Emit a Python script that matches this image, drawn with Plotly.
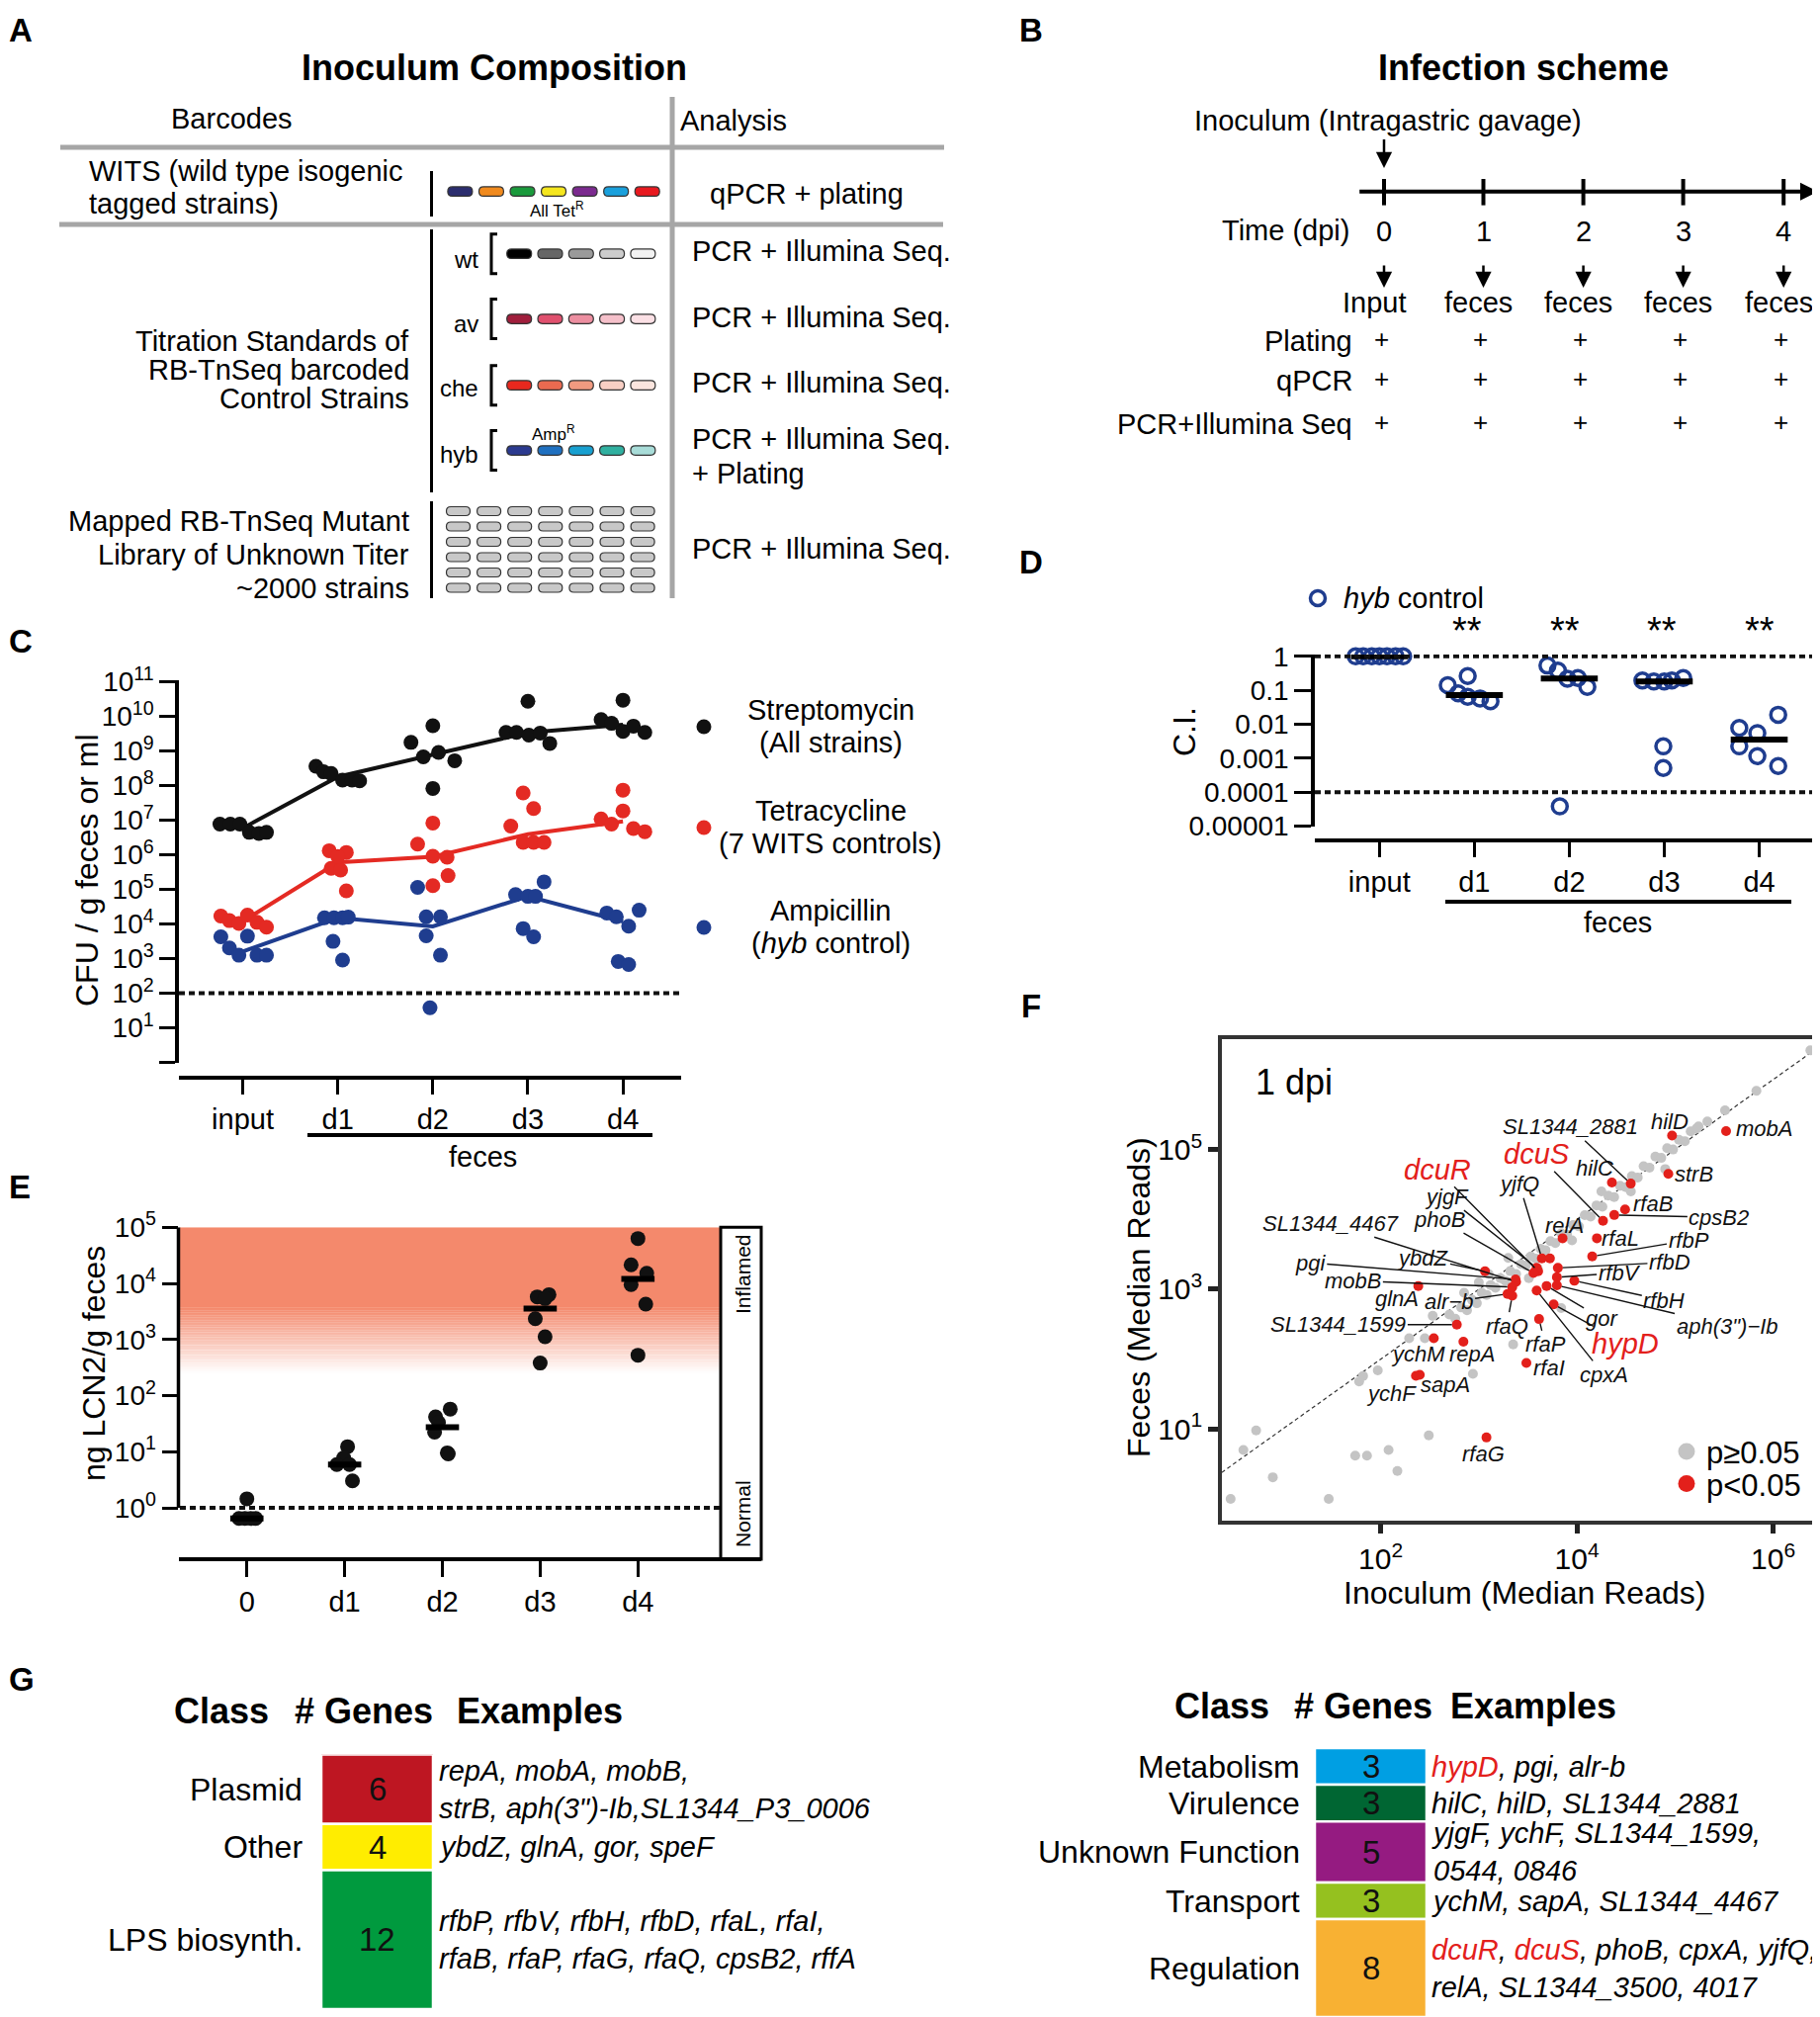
import numpy as np
import plotly.graph_objects as go

FONT = "Liberation Sans, Arial, Helvetica, sans-serif"
W, H = 1841, 2040
# the page body adds an 8 px offset; coordinates below are target screen pixels
OFF = 8


def px(x):
    return (x - OFF) / W


def py(y):
    return 1 - (y - OFF) / H


# ===================== DATA =====================
# Panel C : log10 CFU / g feces or ml
c_categories = ["input", "d1", "d2", "d3", "d4"]
strep_log10 = [
    [6.89, 6.89, 6.89, 6.65, 6.62, 6.65],
    [8.56, 8.40, 8.35, 8.16, 8.16, 8.14],
    [9.25, 9.73, 8.83, 8.96, 8.72, 7.92],
    [10.44, 9.54, 9.54, 9.46, 9.52, 9.22],
    [10.47, 9.91, 9.80, 9.57, 9.72, 9.54],
]
tet_log10 = [
    [4.23, 4.10, 4.02, 4.26, 4.05, 3.91],
    [6.12, 6.07, 5.61, 5.56, 4.96, 5.95],
    [6.92, 6.31, 5.96, 5.93, 5.40, 5.11],
    [7.79, 7.34, 6.83, 6.36, 6.36, 6.36],
    [7.87, 7.27, 7.04, 6.89, 6.76, 6.67],
]
amp_log10 = [
    [3.63, 3.31, 3.10, 3.65, 3.10, 3.10],
    [4.18, 4.18, 4.18, 4.20, 3.50, 2.96],
    [5.06, 4.21, 4.21, 3.66, 3.10, 1.58],
    [4.85, 4.80, 4.80, 5.22, 3.87, 3.63],
    [4.32, 4.21, 3.94, 4.40, 2.92, 2.83],
]
c_detection_limit = 100

# Panel D : log10 competitive index, hyb control
ci_log10 = [
    [0, 0, 0, 0, 0, 0, 0],
    [-0.85, -0.58, -1.09, -1.19, -1.24, -1.32],
    [-0.27, -0.42, -0.66, -0.64, -0.90, -4.42],
    [-0.71, -0.74, -0.74, -0.71, -0.64, -2.65, -3.29],
    [-2.11, -2.26, -1.72, -2.65, -2.94, -3.23],
]
ci_limits = [1, 1e-4]
ci_ticks = [1, 0.1, 0.01, 0.001, 0.0001, 0.00001]
ci_ticktext = ["1", "0.1", "0.01", "0.001", "0.0001", "0.00001"]

# Panel E : log10 ng LCN2 / g feces
e_categories = ["0", "d1", "d2", "d3", "d4"]
lcn2_log10 = [
    [0.16, -0.19, -0.19, -0.19, -0.19],
    [1.09, 0.89, 0.77, 0.77, 0.48],
    [1.76, 1.62, 1.52, 1.35, 0.98, 0.96],
    [3.76, 3.80, 3.73, 3.37, 3.05, 2.58],
    [4.80, 4.33, 4.18, 3.98, 3.63, 2.72],
]
lcn2_normal = 1

# Panel F : log10 median reads (inoculum, feces)
gray_inoc_log10 = [0.47, 0.60, 0.73, 0.90, 1.47, 1.74, 1.86, 2.08, 2.17, 2.49,
                   1.78, 1.82, 1.97, 2.29, 2.45, 2.53, 2.94, 3.35, 3.84, 3.51,
                   4.90, 5.83, 5.51, 6.38, 5.33, 5.24,
                   2.70, 2.76, 2.82, 2.88, 2.93, 2.98, 3.03, 3.08, 3.12, 3.17,
                   3.22, 3.27, 3.32, 3.38, 3.43, 3.48, 3.53, 3.58, 3.63, 3.68,
                   3.73, 3.78, 3.84, 3.90, 3.96, 4.02, 4.08, 4.14, 4.20, 4.26,
                   4.32, 4.38, 4.44, 4.50, 4.56, 4.62, 4.68, 4.74, 4.80, 4.86,
                   4.92, 4.98, 5.04, 5.10, 5.16, 5.22,
                   3.10, 3.30, 3.60, 3.95, 4.25, 4.55, 3.00, 2.85]
gray_feces_log10 = [0.00, 0.70, 0.98, 0.31, 0.00, 0.62, 0.62, 0.70, 0.40, 0.91,
                    1.68, 1.76, 1.84, 2.30, 2.30, 2.62, 1.79, 2.21, 2.73, 3.16,
                    4.72, 5.84, 5.56, 6.42, 5.40, 5.33,
                    2.64, 2.58, 2.74, 2.70, 2.85, 2.80, 2.95, 2.92, 3.06, 3.02,
                    3.16, 3.12, 3.26, 3.22, 3.36, 3.34, 3.47, 3.44, 3.58, 3.56,
                    3.69, 3.66, 3.80, 3.78, 3.92, 3.90, 4.06, 4.04, 4.20, 4.18,
                    4.34, 4.32, 4.48, 4.46, 4.62, 4.60, 4.76, 4.74, 4.90, 4.88,
                    5.02, 5.00, 5.14, 5.12, 5.26, 5.30,
                    3.22, 3.45, 3.30, 3.70, 4.40, 4.40, 3.10, 2.95]
red_genes = ["hilD", "mobA", "strB", "SL1344_2881", "hilC", "dcuS", "rfaB", "cpsB2",
             "rfaL", "relA", "rfbP", "yjfQ", "", "dcuR", "yjgF", "phoB", "rfbD", "rfbV",
             "rfbH", "aph(3\")\u2212Ib", "gor", "hypD", "cpxA", "rfaP", "rfaI", "rfaQ",
             "alr\u2212b", "SL1344_4467", "pgi", "mobB", "ybdZ", "glnA", "SL1344_1599",
             "ychM", "repA", "ychF", "sapA", "rfaG"]
red_inoc_log10 = [4.970, 5.521, 4.932, 4.549, 4.357, 4.266, 4.491, 4.381,
                  4.204, 3.854, 4.156, 3.643, 3.725, 3.605, 3.590, 3.557, 3.806, 3.796,
                  3.974, 3.796, 3.691, 3.763, 3.590, 3.614, 3.485, 3.341,
                  3.293, 3.380, 3.375, 3.341, 3.063, 2.383, 2.776,
                  2.541, 2.843, 2.359, 2.398, 3.078]
red_feces_log10 = [5.199, 5.264, 4.651, 4.512, 4.527, 3.979, 4.143, 4.063,
                   3.730, 3.730, 3.471, 3.441, 3.441, 3.257, 3.306, 3.232, 3.306, 3.172,
                   3.122, 3.057, 3.047, 2.783, 2.983, 2.574, 1.947, 2.908,
                   2.933, 3.107, 3.142, 3.032, 3.257, 3.047, 2.494,
                   2.300, 2.250, 1.762, 1.777, 0.880]
highlight_genes = ["dcuR", "dcuS", "hypD"]

# Panel G : gene classes
g_left_classes = ["Plasmid", "Other", "LPS biosynth."]
g_left_counts = [6, 4, 12]
g_left_examples = [
    "repA, mobA, mobB,<br>strB, aph(3\")-Ib,SL1344_P3_0006",
    "ybdZ, glnA, gor, speF",
    "rfbP, rfbV, rfbH, rfbD, rfaL, rfaI,<br>rfaB, rfaP, rfaG, rfaQ, cpsB2, rffA",
]
g_right_classes = ["Metabolism", "Virulence", "Unknown Function", "Transport", "Regulation"]
g_right_counts = [3, 3, 5, 3, 8]
g_right_examples = [
    "<span style='color:#e3201b'>hypD</span>, pgi, alr-b",
    "hilC, hilD, SL1344_2881",
    "yjgF, ychF, SL1344_1599,<br>0544, 0846",
    "ychM, sapA, SL1344_4467",
    "<span style='color:#e3201b'>dcuR</span>, <span style='color:#e3201b'>dcuS</span>, phoB, cpxA, yjfQ,<br>relA, SL1344_3500, 4017",
]

# ===================== STYLES (jitter / colours) =====================
BLACK, RED, BLUE = "#111111", "#e42a23", "#1f3d8f"
c_jit_strep = [[-0.24, -0.13, -0.03, 0.07, 0.17, 0.25], [-0.23, -0.15, -0.07, 0.05, 0.15, 0.23],
               [-0.23, 0, -0.1, 0.06, 0.23, 0], [0, -0.23, -0.12, 0.01, 0.13, 0.23],
               [0, -0.23, -0.12, 0, 0.11, 0.23]]
c_jit_tet = [[-0.23, -0.14, -0.04, 0.05, 0.15, 0.25], [-0.09, 0.09, -0.07, 0.03, 0.09, 0.0],
             [0, -0.16, 0, 0.15, 0.16, 0], [-0.05, 0.06, -0.18, -0.05, 0.06, 0.17],
             [0, 0, -0.23, -0.12, 0.11, 0.23]]
c_jit_amp = [[-0.23, -0.14, -0.04, 0.05, 0.15, 0.25], [-0.14, -0.04, 0.05, 0.11, -0.05, 0.05],
             [-0.16, -0.07, 0.08, -0.07, 0.08, -0.03], [-0.13, 0, 0.08, 0.17, -0.05, 0.06],
             [-0.17, -0.07, 0.06, 0.17, -0.05, 0.06]]
d_jit = [[-0.25, -0.17, -0.08, 0, 0.08, 0.17, 0.25], [-0.28, -0.07, -0.17, -0.07, 0.06, 0.17],
         [-0.23, -0.12, -0.02, 0.09, 0.19, -0.10], [-0.23, -0.11, 0.0, 0.08, 0.2, -0.01, -0.01],
         [-0.21, -0.02, 0.2, -0.21, -0.02, 0.2]]
e_jit = [[0, -0.08, -0.02, 0.04, 0.09], [0.03, -0.01, -0.08, 0.05, 0.08],
         [0.08, -0.07, -0.04, -0.08, 0.05, 0.06], [-0.03, 0.09, 0.05, -0.05, 0.05, 0],
         [0, -0.07, 0.09, -0.07, 0.08, 0]]
g_left_colors = ["#be1622", "#ffed00", "#009a3e"]
g_right_colors = ["#009fe3", "#006633", "#951b81", "#95c11f", "#f8b133"]

fig = go.Figure()
shapes, annots = [], []


def T(x, y, s, size=29, anchor="center", color="black", angle=0, bold=False, italic=False, align="center"):
    if bold:
        s = "<b>" + s + "</b>"
    if italic:
        s = "<i>" + s + "</i>"
    annots.append(dict(xref="paper", yref="paper", x=px(x), y=py(y), text=s, showarrow=False,
                       xanchor=anchor, yanchor="middle", textangle=angle, align=align,
                       font=dict(size=size, color=color, family=FONT)))


def L(x0, y0, x1, y1, color="black", width=3, dash=None):
    shapes.append(dict(type="line", xref="paper", yref="paper", x0=px(x0), y0=py(y0), x1=px(x1),
                       y1=py(y1), line=dict(color=color, width=width, dash=dash)))


def ARROW(x0, y0, x1, y1, width=2.5, size=1.2):
    annots.append(dict(xref="paper", yref="paper", x=px(x1), y=py(y1), ax=x0 - x1, ay=y0 - y1,
                       text="", showarrow=True, arrowhead=2, arrowwidth=width, arrowsize=size,
                       arrowcolor="black"))


def PILL(cx, cy, fill, w=25, h=9.5, edge="#333333"):
    r = h / 2
    x0, x1, y0, y1 = cx - w / 2, cx + w / 2, cy - h / 2, cy + h / 2
    pts = [("M", x0 + r, y0), ("L", x1 - r, y0), ("Q", x1, y0, x1, cy), ("Q", x1, y1, x1 - r, y1),
           ("L", x0 + r, y1), ("Q", x0, y1, x0, cy), ("Q", x0, y0, x0 + r, y0)]
    p = ""
    for seg in pts:
        cmd = seg[0]
        coords = seg[1:]
        p += cmd + " " + " ".join(
            f"{px(coords[i]):.5f},{py(coords[i + 1]):.5f}" for i in range(0, len(coords), 2)) + " "
    p += "Z"
    shapes.append(dict(type="path", xref="paper", yref="paper", path=p, fillcolor=fill,
                       line=dict(color=edge, width=1.2)))


def CIRCLE(cx, cy, r, fill, edge=None, ew=0):
    shapes.append(dict(type="circle", xref="paper", yref="paper", x0=px(cx - r), x1=px(cx + r),
                       y0=py(cy + r), y1=py(cy - r), fillcolor=fill,
                       line=dict(color=edge if edge else fill, width=ew)))


# ===================== PANEL A =====================
T(7, 31, "A", size=33, bold=True, anchor="left")
T(500, 68, "Inoculum Composition", size=36, bold=True)
T(234, 120, "Barcodes")
T(742, 122, "Analysis")
GRAY = "#a6a6a6"
L(61, 149, 955, 149, GRAY, 5)
L(60, 227, 954, 227, GRAY, 5)
L(680, 98, 680, 605, GRAY, 5)
L(436.5, 173, 436.5, 219, "black", 3)
L(436.5, 232, 436.5, 498, "black", 3)
L(436.5, 507, 436.5, 605, "black", 3)
T(88, 172.6, "WITS (wild type isogenic", anchor="left")
T(88, 206, "tagged strains)", anchor="left")
wits_colors = ["#2b2d6e", "#f08a1e", "#1a9a3c", "#f5e61e", "#7b2a8f", "#1aa0dc", "#e8191f"]
for i, c in enumerate(wits_colors):
    PILL(465.4 + i * 31.55, 193.7, c)
T(563, 212, "All Tet<sup>R</sup>", size=17)
T(815.7, 196.4, "qPCR + plating")
rows = [("wt", 256.7, 262, ["#000000", "#666666", "#9a9a9a", "#cccccc", "#f2f2f2"]),
        ("av", 322.6, 327, ["#a01e3c", "#e0506e", "#ec8ea0", "#f5c0ca", "#fbe0e5"]),
        ("che", 389.7, 392, ["#e8281e", "#ea6a50", "#f09a80", "#f8cfc4", "#fbe5de"]),
        ("hyb", 455.6, 459.5, ["#2b3a8f", "#1f70c0", "#18a0d0", "#30b0a0", "#a8dcd8"])]
for name, yc, yl, cols in rows:
    T(486, yl, name, size=24, anchor="right")
    xb = 497
    shapes.append(dict(type="path", xref="paper", yref="paper",
                       path=f"M {px(xb + 6)},{py(yc - 20)} L {px(xb)},{py(yc - 20)} L {px(xb)},{py(yc + 20)} L {px(xb + 6)},{py(yc + 20)}",
                       line=dict(color="black", width=3)))
    for i, c in enumerate(cols):
        PILL(525.2 + i * 31.3, yc, c)
T(560, 437.7, "Amp<sup>R</sup>", size=17)
for yy, s in [(254, "PCR + Illumina Seq."), (320.6, "PCR + Illumina Seq."), (387, "PCR + Illumina Seq."),
              (443.7, "PCR + Illumina Seq."), (479, "+ Plating"), (554.8, "PCR + Illumina Seq.")]:
    T(698, yy, s, anchor="left")
T(416, 345, "Titration Standards of", anchor="right")
T(416, 374, "RB-TnSeq barcoded", anchor="right")
T(416, 403, "Control Strains", anchor="right")
for yy in [517, 532.5, 548, 563.5, 579, 594.5]:
    for i in range(7):
        PILL(463.5 + i * 31.1, yy, "#c8c8c8", w=24, h=9)
T(416, 527, "Mapped RB-TnSeq Mutant", anchor="right")
T(416, 561.5, "Library of Unknown Titer", anchor="right")
T(416, 595, "~2000 strains", anchor="right")

# ===================== PANEL B =====================
T(1043, 31, "B", size=33, bold=True)
T(1541, 68, "Infection scheme", size=36, bold=True)
T(1404, 122, "Inoculum (Intragastric gavage)")
ARROW(1400, 139.5, 1400, 170, width=2.5, size=1.3)
ARROW(1373.7, 193.7, 1839, 193.7, width=4, size=0.9)
bx = [1400, 1500.5, 1601.6, 1702.6, 1804.2]
for x in bx:
    L(x, 181, x, 207.6, "black", 4)
    ARROW(x, 267, x, 291, width=2.5, size=1.3)
T(1367, 232.6, "Time (dpi)", anchor="right")
for i, x in enumerate(bx):
    T(x, 234, str(i))
T(1390, 306, "Input")
for x in bx[1:]:
    T(x - 5, 306, "feces")
for yy, s in [(345.5, "Plating"), (385.4, "qPCR"), (428.6, "PCR+Illumina Seq")]:
    T(1370, yy, s, anchor="right")
    for x in bx:
        T(x - 3, yy - 2, "+", size=26)

# ===================== PANEL C =====================
T(7, 648, "C", size=33, bold=True, anchor="left")
for vals, jit, col in [(strep_log10, c_jit_strep, BLACK), (tet_log10, c_jit_tet, RED),
                       (amp_log10, c_jit_amp, BLUE)]:
    med = [10 ** float(np.median(v)) for v in vals]
    fig.add_trace(go.Scatter(x=list(range(len(vals))), y=med, mode="lines",
                             line=dict(color=col, width=4), xaxis="x", yaxis="y",
                             showlegend=False, hoverinfo="skip"))
    xs, ys = [], []
    for i, (v, j) in enumerate(zip(vals, jit)):
        xs += [i + o for o in j]
        ys += [10 ** a for a in v]
    fig.add_trace(go.Scatter(x=xs, y=ys, mode="markers", marker=dict(size=15, color=col),
                             xaxis="x", yaxis="y", showlegend=False, cliponaxis=False))
shapes.append(dict(type="line", xref="x domain", yref="y", x0=0, x1=1, y0=c_detection_limit,
                   y1=c_detection_limit, line=dict(color="#111", width=4, dash="6px,4px")))
T(88, 880, "CFU / g feces or ml", size=32, angle=-90)
L(311, 1148, 660, 1148, "black", 4)
T(488, 1170, "feces")
for cy, col, l1, l2 in [(735, BLACK, "Streptomycin", "(All strains)"),
                        (837, RED, "Tetracycline", "(7 WITS controls)"),
                        (938, BLUE, "Ampicillin", "(<i>hyb</i> control)")]:
    CIRCLE(712, cy, 7.5, col)
    T(840, cy - 17, l1)
    T(840, cy + 16, l2)

# ===================== PANEL D =====================
T(1043, 568, "D", size=33, bold=True)
xs, ys = [], []
for i, (v, j) in enumerate(zip(ci_log10, d_jit)):
    xs += [i + o for o in j]
    ys += [10 ** a for a in v]
fig.add_trace(go.Scatter(x=xs, y=ys, mode="markers",
                         marker=dict(size=15, symbol="circle-open", color=BLUE, line=dict(width=3.5)),
                         xaxis="x2", yaxis="y2", showlegend=False, cliponaxis=False))
bx_, by_ = [], []
for i, v in enumerate(ci_log10):
    m = 10 ** float(np.median(v))
    bx_ += [i - 0.3, i + 0.3, None]
    by_ += [m, m, None]
fig.add_trace(go.Scatter(x=bx_, y=by_, mode="lines", line=dict(color="black", width=6),
                         xaxis="x2", yaxis="y2", showlegend=False, hoverinfo="skip", cliponaxis=False))
for lim in ci_limits:
    shapes.append(dict(type="line", xref="x2 domain", yref="y2", x0=0, x1=1, y0=lim,
                       y1=lim, line=dict(color="#111", width=4, dash="6px,4px")))
for i in range(1, 5):
    T(1484 + (i - 1) * 98.5, 638, "**", size=38)
T(1198, 740, "C.I.", size=32, angle=-90)
CIRCLE(1333, 605, 7.5, "white", BLUE, 3.5)
T(1357, 605, "<i>hyb</i> control", anchor="left")
L(1462, 912, 1812, 912, "black", 4)
T(1636, 933, "feces")

# ===================== PANEL E =====================
T(7, 1200, "E", size=33, bold=True, anchor="left")
grad_top, grad_bot = 3.57, 2.40
salmon = np.array([244, 137, 108])
shapes.append(dict(type="rect", xref="paper", yref="y3", x0=px(182), x1=px(729), y0=10 ** grad_top,
                   y1=1e5, fillcolor="rgb(244,137,108)", line=dict(width=0), layer="below"))
nb = 40
for k in range(nb):
    t = (k + 0.5) / nb
    c = salmon + (np.array([255, 255, 255]) - salmon) * t
    ya = grad_top - (grad_top - grad_bot) * k / nb + 0.003
    yb = grad_top - (grad_top - grad_bot) * (k + 1) / nb
    shapes.append(dict(type="rect", xref="paper", yref="y3", x0=px(182), x1=px(729), y0=10 ** yb,
                       y1=10 ** ya, fillcolor=f"rgb({int(c[0])},{int(c[1])},{int(c[2])})",
                       line=dict(width=0), layer="below"))
shapes.append(dict(type="rect", xref="paper", yref="paper", x0=px(729), x1=px(770), y0=py(1577),
                   y1=py(1241.3), line=dict(color="black", width=3)))
shapes.append(dict(type="line", xref="paper", yref="y3", x0=px(182), x1=px(729), y0=lcn2_normal,
                   y1=lcn2_normal, line=dict(color="#111", width=4, dash="6px,4px")))
# visible part of the E y-axis (10^0 .. 10^5)
shapes.append(dict(type="line", xref="paper", yref="y3", x0=px(180.5), x1=px(180.5), y0=1, y1=1e5,
                   line=dict(color="black", width=3.5)))
xs, ys = [], []
for i, (v, j) in enumerate(zip(lcn2_log10, e_jit)):
    xs += [i + o for o in j]
    ys += [10 ** a for a in v]
fig.add_trace(go.Scatter(x=xs, y=ys, mode="markers", marker=dict(size=15, color=BLACK),
                         xaxis="x3", yaxis="y3", showlegend=False, cliponaxis=False))
bx_, by_ = [], []
for i, v in enumerate(lcn2_log10):
    m = 10 ** float(np.median(v))
    bx_ += [i - 0.17, i + 0.17, None]
    by_ += [m, m, None]
fig.add_trace(go.Scatter(x=bx_, y=by_, mode="lines", line=dict(color="black", width=6),
                         xaxis="x3", yaxis="y3", showlegend=False, hoverinfo="skip", cliponaxis=False))
T(95, 1379, "ng LCN2/g feces", size=32, angle=-90)
T(751, 1289, "Inflamed", size=21, angle=-90)
T(751, 1531, "Normal", size=21, angle=-90)

# ===================== PANEL F =====================
T(1043, 1017, "F", size=33, bold=True)
f_xr = [0.381, 6.448]
f_yr = [-0.305, 6.579]
fig.add_trace(go.Scatter(x=[10 ** -1, 10 ** 7], y=[10 ** -1, 10 ** 7], mode="lines",
                         line=dict(color="#333", width=1.2, dash="4px,3px"), xaxis="x4", yaxis="y4",
                         showlegend=False, hoverinfo="skip"))
fig.add_trace(go.Scatter(x=[10 ** a for a in gray_inoc_log10], y=[10 ** a for a in gray_feces_log10],
                         mode="markers", marker=dict(size=10, color="#c4c4c4"), xaxis="x4", yaxis="y4",
                         showlegend=False))
fig.add_trace(go.Scatter(x=[10 ** a for a in red_inoc_log10], y=[10 ** a for a in red_feces_log10],
                         mode="markers", marker=dict(size=10, color="#e3201b"), xaxis="x4", yaxis="y4",
                         showlegend=False, text=red_genes))
# label layout: text centre (log10 x, log10 y), leader line flag
f_label_pos = {
    "SL1344_2881": (3.931, 5.324, True), "hilD": (4.946, 5.399, False), "mobA": (5.904, 5.299, False),
    "dcuS": (3.595, 4.935, True), "hilC": (4.180, 4.726, False), "strB": (5.195, 4.651, False),
    "dcuR": (2.575, 4.716, True), "yjfQ": (3.413, 4.502, True), "yjgF": (2.671, 4.328, True),
    "rfaB": (4.778, 4.228, False), "cpsB2": (5.449, 4.029, True), "SL1344_4467": (1.487, 3.944, True),
    "phoB": (2.599, 4.004, True), "relA": (3.878, 3.919, False), "rfaL": (4.443, 3.730, False),
    "rfbP": (5.138, 3.700, True), "rfbD": (4.946, 3.385, True), "ybdZ": (2.431, 3.446, True),
    "pgi": (1.281, 3.381, True), "rfbV": (4.434, 3.235, True), "mobB": (1.720, 3.122, True),
    "glnA": (2.160, 2.860, False), "alr\u2212b": (2.695, 2.818, True), "rfbH": (4.889, 2.843, True),
    "aph(3\")\u2212Ib": (5.531, 2.474, True), "gor": (4.252, 2.584, True),
    "SL1344_1599": (1.569, 2.494, True), "rfaQ": (3.284, 2.474, True), "rfaP": (3.677, 2.210, True),
    "hypD": (4.491, 2.225, True), "cpxA": (4.275, 1.777, True), "rfaI": (3.720, 1.870, False),
    "ychM": (2.383, 2.076, False), "repA": (2.934, 2.076, False), "sapA": (2.656, 1.638, False),
    "ychF": (2.105, 1.513, False), "rfaG": (3.044, 0.651, False),
}
for g, gx, gy in zip(red_genes, red_inoc_log10, red_feces_log10):
    if g not in f_label_pos:
        continue
    tx, ty, lead = f_label_pos[g]
    hl = g in highlight_genes
    font = dict(size=29 if hl else 22, color="#e3201b" if hl else "#111", family=FONT)
    txt = "<i>" + g + "</i>"
    if lead:
        annots.append(dict(xref="x4", yref="y4", x=gx, y=gy, axref="x4", ayref="y4", ax=tx, ay=ty,
                           text=txt, showarrow=True, arrowhead=0, arrowwidth=1.4, arrowcolor="#111",
                           standoff=5, font=font))
    else:
        annots.append(dict(xref="x4", yref="y4", x=tx, y=ty, text=txt, showarrow=False, font=font))
T(1268, 1094, "1 dpi", size=36, anchor="left")
T(1152, 1312, "Feces (Median Reads)", size=32, angle=-90)
T(1542, 1611, "Inoculum (Median Reads)", size=32)
CIRCLE(1706, 1468, 8.5, "#c4c4c4")
CIRCLE(1706, 1500.6, 8.5, "#e3201b")
T(1724, 1469, "p\u22650.05", size=31, anchor="left")
T(1724, 1502, "p<0.05", size=31, anchor="left")

# ===================== PANEL G =====================
T(7, 1698, "G", size=33, bold=True, anchor="left")
for xc, s in [(224, "Class"), (368, "# Genes"), (546, "Examples")]:
    T(xc, 1730, s, size=36, bold=True)
for xc, s in [(1236, "Class"), (1379, "# Genes"), (1551, "Examples")]:
    T(xc, 1725, s, size=36, bold=True)


def g_table(classes, counts, colors, examples, xa, ya, top, bottom, lab_px, ex_px):
    starts = np.concatenate([[0], np.cumsum(counts)[:-1]])
    total = float(np.sum(counts))
    per = (bottom - top) / total
    fig.add_trace(go.Bar(x=[0] * len(counts), y=counts, base=starts, width=1,
                         marker=dict(color=colors, line=dict(color="white", width=2.5)),
                         xaxis=xa, yaxis=ya, showlegend=False, hoverinfo="skip"))
    for cl, cnt, st, ex in zip(classes, counts, starts, examples):
        mid = st + cnt / 2
        annots.append(dict(xref=xa, yref=ya, x=0, y=mid, text=str(cnt), showarrow=False,
                           font=dict(size=33, color="#111", family=FONT)))
        ymid = top + mid * per
        T(lab_px, ymid, cl, size=32, anchor="right")
        T(ex_px, ymid, ex, size=29, anchor="left", italic=True, align="left")
    return total


g_left_top, g_left_bot = 1774.6, 2032
g_right_top, g_right_bot = 1768, 2040
nl = g_table(g_left_classes, g_left_counts, g_left_colors, g_left_examples, "x5", "y5",
             g_left_top, g_left_bot, 308, 442)
nr = g_table(g_right_classes, g_right_counts, g_right_colors, g_right_examples, "x6", "y6",
             g_right_top, g_right_bot, 1317, 1446)

# ===================== AXES =====================
TF = dict(size=28, color="black", family=FONT)
ax_common = dict(showgrid=False, zeroline=False, showline=True, linecolor="black", linewidth=3.5,
                 ticks="outside", tickcolor="black", tickwidth=3, automargin=False, tickfont=TF)
sup = lambda k: f"10<sup>{k}</sup>"
e_bottom = 1525 + 0.3 * 56.74
layout_axes = dict(
    xaxis=dict(ax_common, domain=[px(181), px(689)], range=[-0.671, 4.612], anchor="free",
               position=py(1090), tickvals=list(range(5)), ticktext=c_categories, ticklen=15,
               tickfont=dict(TF, size=29)),
    yaxis=dict(ax_common, domain=[py(1074.6), py(687.85)], type="log", range=[0, 11.05], anchor="x",
               tickvals=[10 ** k for k in range(12)], ticktext=[""] + [sup(k) for k in range(1, 12)],
               ticklen=16),
    xaxis2=dict(ax_common, domain=[px(1330), px(1838)], range=[-0.68, 4.609], anchor="free",
                position=py(849.5), tickvals=list(range(5)), ticktext=c_categories, ticklen=16,
                tickfont=dict(TF, size=29)),
    yaxis2=dict(ax_common, domain=[py(835.5), py(662.1)], type="log", range=[-5, 0.05], anchor="x2",
                tickvals=ci_ticks, ticktext=ci_ticktext, ticklen=17),
    xaxis3=dict(ax_common, domain=[px(180.5), px(770)], range=[-0.70, 5.261], anchor="free",
                position=py(1577), tickvals=list(range(5)), ticktext=e_categories, ticklen=16,
                tickfont=dict(TF, size=29)),
    yaxis3=dict(ax_common, domain=[py(e_bottom), py(1241.3)], type="log", range=[-0.3, 5], anchor="x3",
                showline=False, tickvals=[10 ** k for k in range(6)], ticktext=[sup(k) for k in range(6)],
                ticklen=16),
    xaxis4=dict(ax_common, domain=[px(1236), px(1838)], type="log", range=f_xr, anchor="y4",
                mirror=True, linecolor="#333", tickvals=[1e2, 1e4, 1e6],
                ticktext=[sup(2), sup(4), sup(6)], ticklen=10, tickwidth=5, tickcolor="#222",
                tickfont=dict(TF, size=30)),
    yaxis4=dict(ax_common, domain=[py(1537.6), py(1051)], type="log", range=f_yr, anchor="x4",
                mirror=True, linecolor="#333", tickvals=[1e1, 1e3, 1e5],
                ticktext=[sup(1), sup(3), sup(5)], ticklen=10, tickwidth=5, tickcolor="#222",
                tickfont=dict(TF, size=30)),
    xaxis5=dict(domain=[px(325), px(438)], range=[-0.5, 0.5], visible=False, anchor="y5"),
    yaxis5=dict(domain=[py(g_left_bot), py(g_left_top)], range=[nl, 0], visible=False, anchor="x5"),
    xaxis6=dict(domain=[px(1330), px(1443)], range=[-0.5, 0.5], visible=False, anchor="y6"),
    yaxis6=dict(domain=[py(g_right_bot), py(g_right_top)], range=[nr, 0], visible=False, anchor="x6"),
)

fig.update_layout(
    width=W, height=H, autosize=False, margin=dict(l=0, r=0, t=0, b=0, pad=0, autoexpand=False),
    paper_bgcolor="white", plot_bgcolor="rgba(0,0,0,0)",
    font=dict(family=FONT, color="black"), showlegend=False, hovermode=False,
    barmode="overlay", shapes=shapes, annotations=annots, **layout_axes,
)

fig.write_html("out.html")
